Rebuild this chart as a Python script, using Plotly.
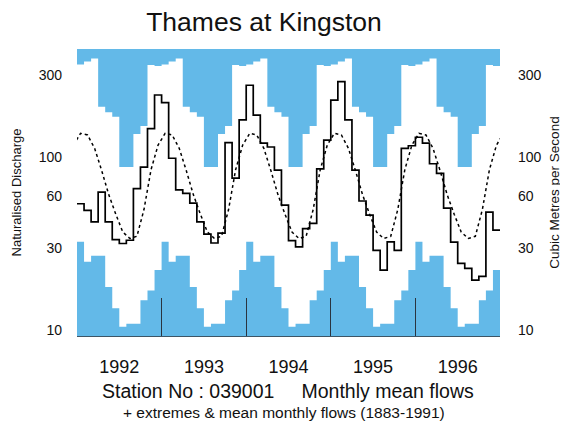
import plotly.graph_objects as go

# ---------------- data ----------------
years = [1992, 1993, 1994, 1995, 1996]
year_labels = ["1992", "1993", "1994", "1995", "1996"]

# monthly mean flows (m3/s), Jan..Dec
flow_1992 = [54, 49.5, 42.4, 63, 42.4, 33.5, 31.8, 33.2, 66, 88, 147, 230]
flow_1993 = [208, 99, 65, 62, 54.5, 42.4, 36, 32, 36.5, 122, 76, 165]
flow_1994 = [262, 176, 121, 115, 84.5, 53, 33, 30.4, 38.8, 41.6, 86, 126]
flow_1995 = [215, 275, 165, 84.5, 56, 46.4, 29, 22.3, 32.5, 29, 113, 117]
flow_1996 = [131, 121, 92, 81, 51, 32.4, 24.4, 22.8, 19.5, 20.5, 48.3, 38]

# long-term monthly statistics (1883-1991), Jan..Dec
ltm_max = [345, 360, 374, 197, 183, 172, 88, 88, 137, 152, 343, 338]
ltm_min = [32.5, 24.9, 27.0, 27.0, 17.8, 13.4, 10.5, 10.9, 10.9, 14.9, 17.0, 22.3]
ltm_mean = [138, 135, 113, 84, 61, 47, 37, 34, 35, 50, 85, 118]

y_ticks = [10, 30, 60, 100, 300]
y_tick_labels = ["10", "30", "60", "100", "300"]

# ---------------- derived series ----------------
monthly_flow = flow_1992 + flow_1993 + flow_1994 + flow_1995 + flow_1996
n_years = len(years)
month_start = [y + m / 12 for y in years for m in range(12)] + [years[-1] + 1]
month_mid = [years[0] - 0.5 / 12] + [y + (m + 0.5) / 12 for y in years for m in range(12)] + [years[-1] + 1 + 0.5 / 12]

flow_step = monthly_flow + [monthly_flow[-1]]
max_step = ltm_max * n_years + [ltm_max[-1]]
min_step = ltm_min * n_years + [ltm_min[-1]]
mean_line = [ltm_mean[-1]] + ltm_mean * n_years + [ltm_mean[0]]

year_mid = [y + 0.5 for y in years]
year_bounds = years[1:]
dot_ticks = [y + m / 12 for y in years for m in range(12) if m not in (0, 6)]

BLUE = "rgb(99,185,232)"
Y_RANGE = [0.967, 2.628]
TOP = 1e4
BOTTOM = 1e-1

fig = go.Figure()

# upper blue band: above long-term monthly maxima
fig.add_trace(go.Scatter(x=month_start, y=max_step, mode="lines", line=dict(width=0, shape="hv"),
                         hoverinfo="skip", showlegend=False))
fig.add_trace(go.Scatter(x=month_start, y=[TOP] * len(month_start), mode="lines",
                         line=dict(width=0, shape="hv"), fill="tonexty", fillcolor=BLUE,
                         hoverinfo="skip", showlegend=False))
# lower blue band: below long-term monthly minima
fig.add_trace(go.Scatter(x=month_start, y=[BOTTOM] * len(month_start), mode="lines",
                         line=dict(width=0, shape="hv"), hoverinfo="skip", showlegend=False))
fig.add_trace(go.Scatter(x=month_start, y=min_step, mode="lines", line=dict(width=0, shape="hv"),
                         fill="tonexty", fillcolor=BLUE, hoverinfo="skip", showlegend=False))
# long-term mean (dotted)
fig.add_trace(go.Scatter(x=month_mid, y=mean_line, mode="lines",
                         line=dict(color="black", width=1.5, dash="dot"), showlegend=False))
# monthly mean flows (solid step)
fig.add_trace(go.Scatter(x=month_start, y=flow_step, mode="lines",
                         line=dict(color="black", width=1.7, shape="hv"), showlegend=False))
# dummy trace for right axis
fig.add_trace(go.Scatter(x=[years[0]], y=[100], yaxis="y2", mode="markers",
                         marker=dict(opacity=0), hoverinfo="skip", showlegend=False))

FONT = "Liberation Sans, Arial, sans-serif"

# The page body adds an 8 px offset, so the figure is 560x415 placed at (8, 8).
W, H = 560, 415

fig.update_layout(
    width=W, height=H,
    margin=dict(l=69, r=68, t=41, b=78, autoexpand=False),
    paper_bgcolor="white", plot_bgcolor="white",
    font=dict(family=FONT, color="black"),
    title=dict(text="Thames at Kingston", x=256 / W, xanchor="center", y=1 - 14 / H,
               yanchor="middle", yref="container", automargin=False,
               font=dict(size=26.5, family=FONT, color="#111")),
    xaxis=dict(range=[years[0], years[-1] + 1], tickmode="array", tickvals=year_mid, ticktext=year_labels,
               ticks="", showgrid=False, zeroline=False, showline=True, linecolor="#3d5566", linewidth=1,
               tickfont=dict(size=18, color="#111"), ticklabelstandoff=14, automargin=False,
               minor=dict(tickmode="array", tickvals=year_bounds, ticks="inside", ticklen=38,
                          tickcolor="#2a3440", tickwidth=1.2, showgrid=False)),
    xaxis2=dict(range=[years[0], years[-1] + 1], overlaying="x", anchor="free", position=0, side="bottom",
                tickmode="array", tickvals=dot_ticks, ticks="inside", ticklen=2, tickwidth=1.5,
                tickcolor="#999999", showticklabels=False, showgrid=False, zeroline=False, showline=False,
                automargin=False),
    yaxis=dict(type="log", range=Y_RANGE, domain=[9 / 296, 1], tickmode="array", tickvals=y_ticks,
               ticktext=y_tick_labels, ticks="", showgrid=False, zeroline=False, showline=False,
               tickfont=dict(size=14, color="#111"), ticklabelstandoff=14, automargin=False,
               title=dict(text="Naturalised Discharge", font=dict(size=13, color="#111"), standoff=14)),
    yaxis2=dict(type="log", range=Y_RANGE, overlaying="y", side="right", anchor="x", tickmode="array",
                tickvals=y_ticks, ticktext=y_tick_labels, ticks="", showgrid=False, zeroline=False,
                showline=False, tickfont=dict(size=14, color="#111"), ticklabelstandoff=17, automargin=False,
                title=dict(text="Cubic Metres per Second", font=dict(size=13.5, color="#111"), standoff=8)),
    annotations=[
        dict(text="Station No : 039001\u00a0\u00a0\u00a0\u00a0\u00a0Monthly mean flows", x=0.499, y=(345 - 391) / 296,
             xref="paper", yref="paper", xanchor="center", yanchor="middle", showarrow=False,
             font=dict(size=19.5, color="#111")),
        dict(text="+ extremes & mean monthly flows (1883-1991)", x=0.49, y=(345 - 412) / 296,
             xref="paper", yref="paper", xanchor="center", yanchor="middle", showarrow=False,
             font=dict(size=15.5, color="#111")),
    ],
)

fig.write_html("out.html")
